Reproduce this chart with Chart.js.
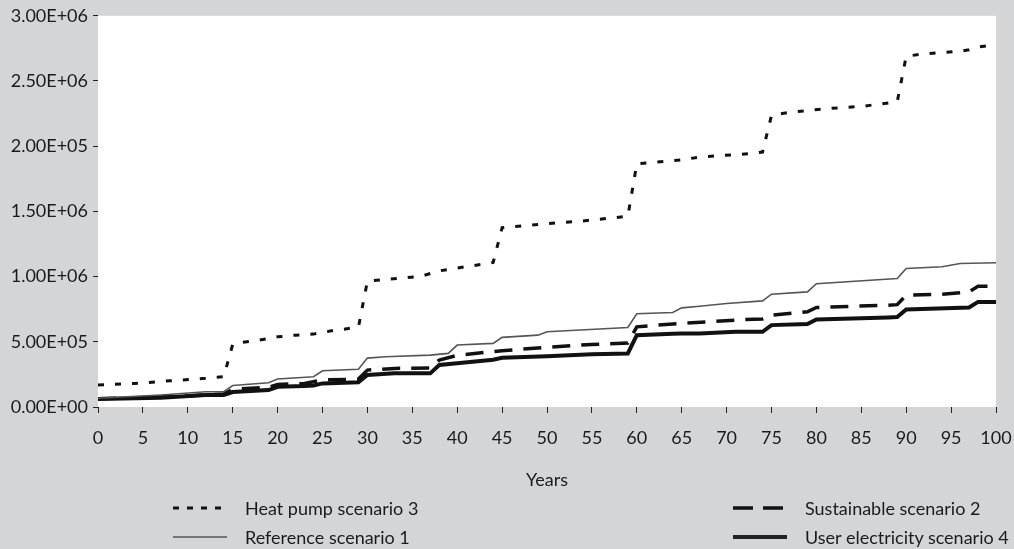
<!DOCTYPE html>
<html>
<head>
<meta charset="utf-8">
<script src="https://cdn.jsdelivr.net/npm/chart.js@4.4.1/dist/chart.umd.min.js"></script>
<style>
  body { margin: 0; background: #d4d5d7; }
  #wrap { position: relative; width: 1014px; height: 549px; font-family: Lato, "Open Sans", sans-serif; color: #1b1b1b; }
  #chart { position: absolute; left: 0; top: 0; }
  .leg { position: absolute; font-size: 18px; line-height: 20px; white-space: nowrap; }
  .leg svg { position: absolute; left: 0; top: 4px; }
  .leg span { position: absolute; top: 0; }
</style>
</head>
<body>
<div id="wrap">
  <canvas id="chart" width="1014" height="549"></canvas>
  <div id="legend"></div>
</div>
<script>
// Data
const yTickLabels = ['0.00E+00', '5.00E+05', '1.00E+06', '1.50E+06', '2.00E+05', '2.50E+06', '3.00E+06'];

const heatYears  = [0, 4, 8, 12, 14, 15, 16, 18, 20, 22, 24, 26, 29, 30, 36, 38, 44, 45, 50, 54, 59, 60, 65, 67, 73, 74, 75, 77, 81, 85, 89, 90, 92, 96, 97, 98, 100];
const heatValues = [168000, 180000, 201000, 220000, 232000, 480000, 495000, 513000, 538000, 551000, 559000, 584000, 612000, 965000, 1003000, 1044000, 1108000, 1375000, 1406000, 1427000, 1462000, 1865000, 1895000, 1917000, 1945000, 1955000, 2236000, 2260000, 2287000, 2305000, 2340000, 2690000, 2708000, 2728000, 2740000, 2760000, 2780000];

const sustYears  = [0, 5, 10, 14, 15, 19, 20, 23, 25, 29, 30, 33, 37, 38, 40, 44, 45, 50, 55, 59, 60, 62, 65, 68, 72, 74, 75, 79, 80, 88, 89, 90, 94, 97, 98, 100];
const sustValues = [64000, 72000, 85000, 100000, 135000, 151000, 172000, 181000, 207000, 214000, 283000, 296000, 300000, 360000, 396000, 425000, 432000, 458000, 480000, 490000, 615000, 626000, 641000, 653000, 671000, 675000, 704000, 730000, 763000, 781000, 785000, 858000, 865000, 883000, 926000, 926000];

const refYears  = [0, 7, 12, 14, 15, 19, 20, 24, 25, 29, 30, 32, 37, 39, 40, 44, 45, 49, 50, 59, 60, 64, 65, 67, 70, 74, 75, 79, 80, 89, 90, 94, 96, 100];
const refValues = [67000, 92000, 117000, 118000, 165000, 186000, 215000, 232000, 278000, 290000, 375000, 385000, 398000, 411000, 475000, 488000, 534000, 551000, 577000, 610000, 715000, 725000, 760000, 773000, 794000, 814000, 865000, 883000, 945000, 985000, 1062000, 1075000, 1100000, 1106000];

const userYears  = [0, 7, 12, 14, 15, 19, 20, 23, 24, 25, 29, 30, 33, 37, 38, 40, 44, 45, 50, 55, 59, 60, 64, 65, 67, 71, 74, 75, 79, 80, 88, 89, 90, 97, 98, 100];
const userValues = [62000, 71000, 92000, 92000, 115000, 130000, 155000, 161000, 165000, 181000, 189000, 245000, 258000, 258000, 322000, 335000, 362000, 378000, 390000, 405000, 411000, 551000, 562000, 564000, 564000, 577000, 577000, 628000, 636000, 671000, 687000, 690000, 748000, 763000, 806000, 806000];

const toPoints = (xs, ys) => xs.map((x, i) => ({ x: x, y: ys[i] }));

const series = [
  { label: 'Heat pump scenario 3', data: toPoints(heatYears, heatValues), borderColor: '#111', borderWidth: 3, borderDash: [6, 11] },
  { label: 'Reference scenario 1', data: toPoints(refYears, refValues), borderColor: '#555', borderWidth: 1.6 },
  { label: 'Sustainable scenario 2', data: toPoints(sustYears, sustValues), borderColor: '#111', borderWidth: 3.5, borderDash: [18, 11] },
  { label: 'User electricity scenario 4', data: toPoints(userYears, userValues), borderColor: '#111', borderWidth: 4 }
];

// white plot area on grey page
const plotBg = {
  id: 'plotBg',
  beforeDraw(chart) {
    const a = chart.chartArea;
    chart.ctx.save();
    chart.ctx.fillStyle = '#fff';
    chart.ctx.fillRect(a.left, a.top, a.right - a.left, a.bottom - a.top);
    chart.ctx.restore();
  }
};

const tickFont = { family: 'Lato, "Open Sans", sans-serif', size: 18 };

new Chart(document.getElementById('chart'), {
  type: 'line',
  data: {
    datasets: series.map(s => Object.assign({ pointRadius: 0, tension: 0, fill: false }, s))
  },
  options: {
    responsive: false,
    animation: false,
    layout: { padding: { top: 15, right: 18, bottom: 55, left: 0 } },
    plugins: { legend: { display: false }, tooltip: { enabled: false } },
    scales: {
      x: {
        type: 'linear', min: 0, max: 100,
        // fixed height, and let the "100" label hang into the right margin
        afterFit: s => { s.height = 87; s.paddingLeft = 0; s.paddingRight = 0; },
        ticks: { stepSize: 5, color: '#1b1b1b', font: tickFont, padding: 14, maxRotation: 0 },
        grid: { drawOnChartArea: false, drawTicks: true, tickLength: 6, color: '#222' },
        border: { display: false },
        title: { display: true, text: 'Years', color: '#1b1b1b', font: tickFont, padding: { top: 0, bottom: 3 } }
      },
      y: {
        min: 0, max: 3000000,
        afterFit: s => { s.width = 98; },
        ticks: { stepSize: 500000, color: '#1b1b1b', font: tickFont, padding: 5,
          callback: (v, i) => yTickLabels[i] },
        grid: { drawOnChartArea: false, drawTicks: true, tickLength: 5, color: '#222' },
        border: { display: false }
      }
    }
  },
  plugins: [plotBg]
});

// two-column legend below the chart
const legendItems = [
  { text: 'Heat pump scenario 3', left: 173, top: 498, dash: '6 8', width: 3, color: '#111' },
  { text: 'Sustainable scenario 2', left: 733, top: 498, dash: '20 10', width: 3.5, color: '#111' },
  { text: 'Reference scenario 1', left: 173, top: 527, dash: '', width: 1.6, color: '#555' },
  { text: 'User electricity scenario 4', left: 733, top: 527, dash: '', width: 4, color: '#222' }
];
const legend = document.getElementById('legend');
legendItems.forEach(it => {
  const div = document.createElement('div');
  div.className = 'leg';
  div.style.left = it.left + 'px';
  div.style.top = it.top + 'px';
  div.innerHTML = `
    <svg width="54" height="12"><line x1="0" y1="6" x2="54" y2="6" stroke="${it.color}" stroke-width="${it.width}" ${it.dash ? `stroke-dasharray="${it.dash}"` : ''}/></svg>
    <span style="left:72px">${it.text}</span>`;
  legend.appendChild(div);
});
</script>
</body>
</html>
